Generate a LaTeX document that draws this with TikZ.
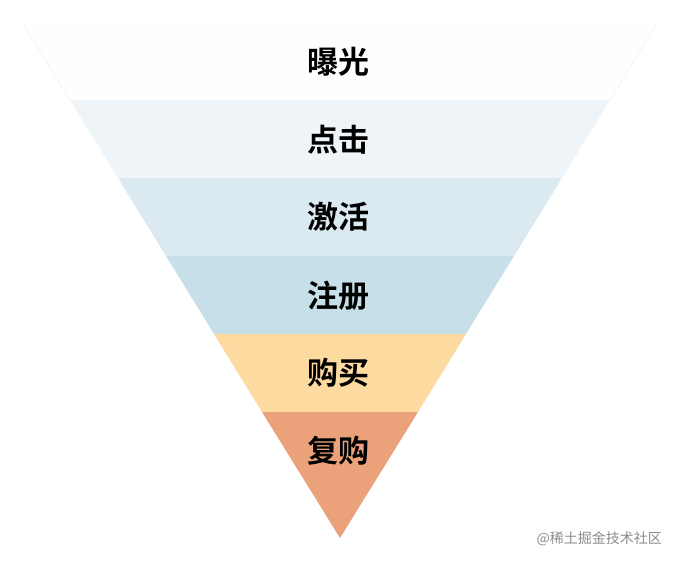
\documentclass[tikz,border=0pt]{standalone}
\usepackage{fontspec}
\newfontfamily\cjk{Noto Sans CJK SC}[BoldFont=* Bold]
\begin{document}
\begin{tikzpicture}[x=1pt,y=-1pt,
  band/.style={draw=none},
  lbl/.style={font=\cjk\bfseries\fontsize{31}{31}\selectfont, text=black, inner sep=0pt}]
\useasboundingbox (0,0) rectangle (678,563);
\fill[white] (0,0) rectangle (678,563);
\definecolor{c1}{HTML}{FEFEFE}
\definecolor{c2}{HTML}{EEF4F7}
\definecolor{c3}{HTML}{DBEAF1}
\definecolor{c4}{HTML}{C7DFE8}
\definecolor{c5}{HTML}{FDDAA0}
\definecolor{c6}{HTML}{EBA27B}
\coordinate (a0) at (22,22);   \coordinate (b0) at (658,22);
\coordinate (a1) at (70,100);  \coordinate (b1) at (610,100);
\coordinate (a2) at (118,178); \coordinate (b2) at (562,178);
\coordinate (a3) at (166,256); \coordinate (b3) at (514,256);
\coordinate (a4) at (214,334); \coordinate (b4) at (466,334);
\coordinate (a5) at (262,412); \coordinate (b5) at (418,412);
\coordinate (ap) at (340,538);
\fill[c1] (a0) -- (b0) -- (b1) -- (a1) -- cycle;
\draw[black!6, line width=0.5pt] (a0) -- (a1) (b0) -- (b1);
\fill[c2] (a1) -- (b1) -- (b2) -- (a2) -- cycle;
\fill[c3] (a2) -- (b2) -- (b3) -- (a3) -- cycle;
\fill[c4] (a3) -- (b3) -- (b4) -- (a4) -- cycle;
\fill[c5] (a4) -- (b4) -- (b5) -- (a5) -- cycle;
\fill[c6] (a5) -- (b5) -- (ap) -- cycle;
\node[lbl] (t1) at (338,62) {曝光};
\node[lbl] (t2) at (338,140) {点击};
\node[lbl] (t3) at (338,217) {激活};
\node[lbl] (t4) at (338,296) {注册};
\node[lbl] (t5) at (338,373) {购买};
\node[lbl] (t6) at (338,451) {复购};
\node[font=\cjk\fontsize{14}{14}\selectfont, text=black!45, anchor=east, inner sep=0pt] (wm) at (662,539) {@稀土掘金技术社区};
\end{tikzpicture}
\end{document}
